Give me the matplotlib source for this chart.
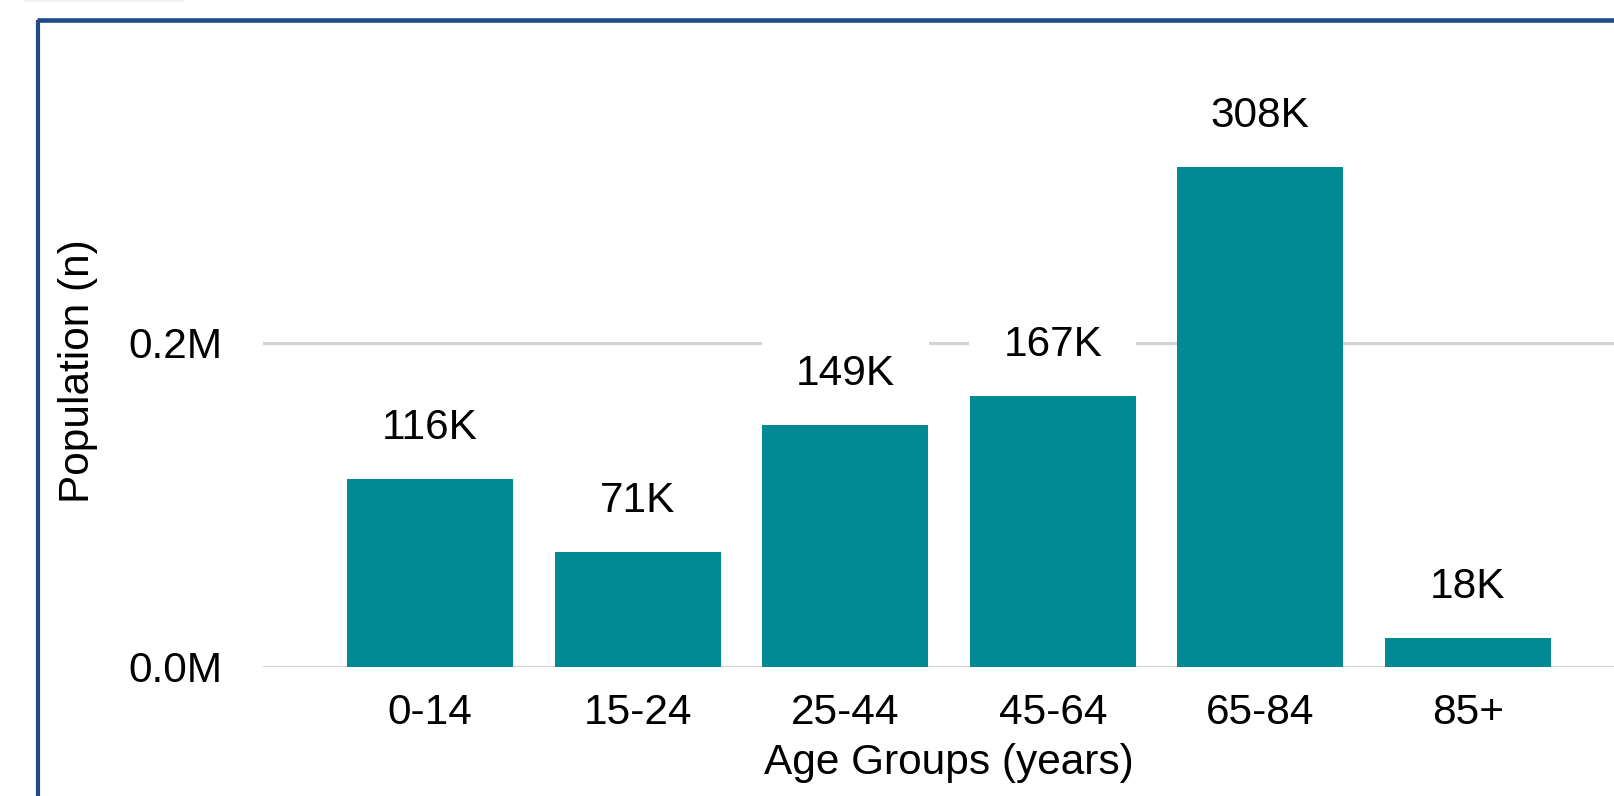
import matplotlib
matplotlib.use("Agg")
import matplotlib.pyplot as plt
from matplotlib.lines import Line2D
from matplotlib.patches import Rectangle
from matplotlib.ticker import FuncFormatter

age_groups = ["0-14", "15-24", "25-44", "45-64", "65-84", "85+"]
population = [116000, 71000, 149000, 167000, 308000, 18000]
y_ticks = [0, 200000]

plt.rcParams["font.family"] = ["Liberation Sans", "DejaVu Sans"]

W, H = 1614, 796
fig = plt.figure(figsize=(W / 100, H / 100), dpi=100)
fig.patch.set_facecolor("white")

# axes placed in pixel terms (right side runs past the figure edge, as in the source)
ax = fig.add_axes([263 / W, 129 / H, 1372 / W, 592 / H])

x = list(range(len(age_groups)))
ax.bar(x, population, width=0.8, color="#028A94", zorder=3)

for i, v in enumerate(population):
    ax.annotate(f"{v / 1000:.0f}K", (i, v), xytext=(0, 29), textcoords="offset points",
                ha="center", va="baseline", fontsize=30.5, color="black", zorder=2,
                bbox=dict(facecolor="white", edgecolor="none", boxstyle="square,pad=0.8"))

ax.set_xlim(-0.805, 5.805)
ax.set_ylim(0, 365000)
ax.set_xticks(x)
ax.set_xticklabels(age_groups)
ax.set_yticks(y_ticks)
ax.yaxis.set_major_formatter(FuncFormatter(lambda v, p: f"{v / 1e6:.1f}M"))
ax.tick_params(axis="both", length=0, labelsize=30.5, labelcolor="black")
ax.tick_params(axis="x", pad=19)
ax.tick_params(axis="y", pad=29.5)

for s in ax.spines.values():
    s.set_visible(False)
ax.yaxis.grid(True, color="#D3D3D3", linewidth=2.2, zorder=1)
ax.set_axisbelow(True)

ax.set_xlabel("Age Groups (years)", fontsize=30.5)
ax.xaxis.set_label_coords(0.5, -0.128)
ax.set_ylabel("Population (n)", fontsize=30.5)
ax.yaxis.set_label_coords(-0.1203, 0.5)

# frame border at top and left
ytop = (H - 20) / H
xleft = 38 / W
fig.add_artist(Line2D([xleft, xleft], [0, ytop], transform=fig.transFigure,
                      color="#1F4B8B", linewidth=3, solid_capstyle="butt"))
fig.add_artist(Line2D([xleft - 1.5 / W, 1], [ytop, ytop], transform=fig.transFigure,
                      color="#1F4B8B", linewidth=3.3, solid_capstyle="butt"))
fig.add_artist(Rectangle((24 / W, (H - 2) / H), 160 / W, 2 / H, transform=fig.transFigure,
                         facecolor="#F2F2F2", edgecolor="none"))

fig.savefig("out.png", dpi=100)
